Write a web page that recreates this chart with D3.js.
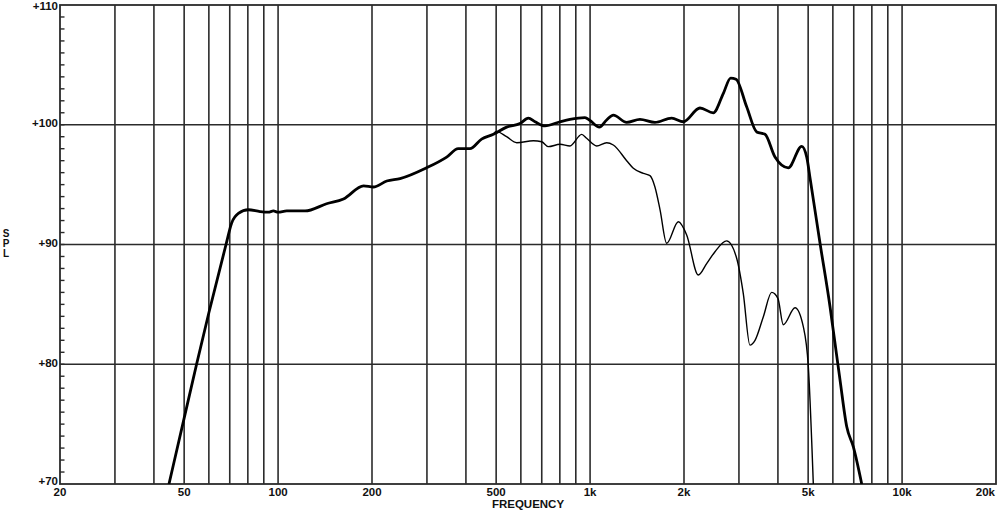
<!DOCTYPE html>
<html>
<head>
<meta charset="utf-8">
<script src="https://cdn.jsdelivr.net/npm/d3@7"></script>
<style>
  html, body { margin: 0; padding: 0; background: #fff; }
  svg { display: block; }
  text { font-family: "Liberation Sans", Arial, sans-serif; font-weight: bold; fill: #111; }
</style>
</head>
<body>
<svg id="chart" width="1000" height="511"></svg>
<script>
// ---- data ----
const xTickValues = [20, 50, 100, 200, 500, 1000, 2000, 5000, 10000, 20000];
const xTickLabels = ["20", "50", "100", "200", "500", "1k", "2k", "5k", "10k", "20k"];
const xGridValues = [30, 40, 50, 60, 70, 80, 90, 100, 200, 300, 400, 500, 600, 700, 800, 900,
                     1000, 2000, 3000, 4000, 5000, 6000, 7000, 8000, 9000, 10000];
const yTickValues = [70, 80, 90, 100, 110];
const yTickLabels = ["+70", "+80", "+90", "+100", "+110"];
const yGridValues = [80, 90, 100];

// on-axis response (thick)
const onAxisFreq = [44.7, 50, 54.8, 60, 68.1, 71.0, 74.6, 80.3, 87.5, 93, 96.6, 100, 106.6, 122, 143, 162,
  188, 202, 223, 246, 299, 347, 378, 412, 449, 490, 540, 596, 634, 666, 717, 801, 862, 963, 1000,
  1071, 1130, 1187, 1310, 1445, 1614, 1826, 1990, 2250, 2483, 2672, 2822, 2936, 3176, 3420, 3636,
  3915, 4318, 4768, 4948, 5080, 5458, 5876, 6096, 6325, 6645, 6980, 7425];
const onAxisSPL = [70.0, 75.5, 80.0, 84.3, 90.0, 91.8, 92.6, 92.9, 92.75, 92.7, 92.8, 92.7, 92.8, 92.8, 93.4, 93.8,
  94.9, 94.8, 95.3, 95.5, 96.4, 97.3, 98.0, 98.0, 98.8, 99.2, 99.8, 100.1, 100.55, 100.25, 99.9, 100.25, 100.45, 100.6, 100.35,
  99.8, 100.4, 100.8, 100.2, 100.45, 100.2, 100.55, 100.25, 101.4, 101.0, 102.6, 103.9, 103.8, 101.5, 99.4, 99.2,
  97.3, 96.4, 98.2, 97.3, 95.4, 90.1, 84.8, 81.75, 78.7, 74.8, 73.1, 70.0];

// off-axis response (thin)
const offAxisFreq = [490, 500, 540, 582, 658, 700, 735, 801, 862, 940, 975, 1050, 1130, 1187, 1310, 1376,
  1482, 1556, 1614, 1676, 1760, 1918, 2040, 2222, 2364, 2514, 2740, 2950, 3098, 3254, 3378, 3592, 3820,
  4000, 4162, 4538, 4824, 5006, 5194];
const offAxisSPL = [99.2, 99.45, 99.0, 98.5, 98.67, 98.58, 98.17, 98.37, 98.23, 99.2, 98.87, 98.23, 98.5, 98.31, 97.0, 96.36,
  95.94, 95.75, 94.8, 92.9, 90.1, 91.9, 90.8, 87.45, 88.4, 89.4, 90.3, 88.85, 85.9, 81.6, 82.0, 83.97, 86.0,
  85.5, 83.3, 84.72, 83.14, 79.8, 70.0];

// ---- layout ----
const svg = d3.select("#chart");
const mLeft = 60, mRight = 996, mTop = 5, mBottom = 484;
const x = d3.scaleLog().domain([20, 20000]).range([mLeft, mRight]);
const y = d3.scaleLinear().domain([70, 110]).range([mBottom, mTop]);
const gridColor = "#2b2b2b";

svg.append("defs").append("clipPath").attr("id", "clip")
  .append("rect").attr("x", mLeft).attr("y", mTop).attr("width", mRight - mLeft).attr("height", mBottom - mTop);

const plot = svg.append("g");

// vertical grid
plot.selectAll("line.vg").data(xGridValues).join("line").attr("class", "vg")
  .attr("x1", d => x(d)).attr("x2", d => x(d))
  .attr("y1", y(70)).attr("y2", y(110))
  .attr("stroke", gridColor).attr("stroke-width", 1.6);

// horizontal grid
plot.selectAll("line.hg").data(yGridValues).join("line").attr("class", "hg")
  .attr("x1", x(20)).attr("x2", x(20000))
  .attr("y1", d => y(d)).attr("y2", d => y(d))
  .attr("stroke", gridColor).attr("stroke-width", 1.6);

// minor ticks every 1 dB on left
plot.selectAll("line.mt").data(d3.range(71, 110)).join("line").attr("class", "mt")
  .attr("x1", x(20)).attr("x2", x(20) + 4.5)
  .attr("y1", d => y(d)).attr("y2", d => y(d))
  .attr("stroke", gridColor).attr("stroke-width", 1.4);

// frame
plot.append("rect")
  .attr("x", x(20)).attr("y", y(110))
  .attr("width", x(20000) - x(20)).attr("height", y(70) - y(110))
  .attr("fill", "none").attr("stroke", gridColor).attr("stroke-width", 1.8);

// curves
const line = d3.line().x(d => x(d[0])).y(d => y(d[1])).curve(d3.curveMonotoneX);
const curves = svg.append("g").attr("clip-path", "url(#clip)");
curves.append("path")
  .attr("d", line(offAxisFreq.map((f, i) => [f, offAxisSPL[i]])))
  .attr("fill", "none").attr("stroke", "#000").attr("stroke-width", 1.4)
  .attr("stroke-linejoin", "round");
curves.append("path")
  .attr("d", line(onAxisFreq.map((f, i) => [f, onAxisSPL[i]])))
  .attr("fill", "none").attr("stroke", "#000").attr("stroke-width", 2.8)
  .attr("stroke-linejoin", "round");

// y labels
svg.selectAll("text.yl").data(yTickValues).join("text").attr("class", "yl")
  .attr("x", mLeft - 2)
  .attr("y", d => y(d) + (d === 70 ? -3 : d === 110 ? 1 : -1.5)).attr("dy", "0.35em")
  .attr("text-anchor", "end").attr("font-size", 11.5)
  .text((d, i) => yTickLabels[i]);

// x labels
svg.selectAll("text.xl").data(xTickValues).join("text").attr("class", "xl")
  .attr("x", d => d === 20000 ? x(d) - 1 : x(d)).attr("y", mBottom + 12)
  .attr("text-anchor", (d, i) => i === xTickValues.length - 1 ? "end" : "middle")
  .attr("font-size", 11.5)
  .text((d, i) => xTickLabels[i]);

// axis titles
svg.append("text").attr("x", (mLeft + mRight) / 2).attr("y", 508)
  .attr("text-anchor", "middle").attr("font-size", 11.5).text("FREQUENCY");
const spl = svg.append("text").attr("x", 6).attr("y", 237)
  .attr("text-anchor", "middle").attr("font-size", 10);
["S", "P", "L"].forEach((c, i) => spl.append("tspan").attr("x", 6).attr("dy", i === 0 ? 0 : 10).text(c));
</script>
</body>
</html>
